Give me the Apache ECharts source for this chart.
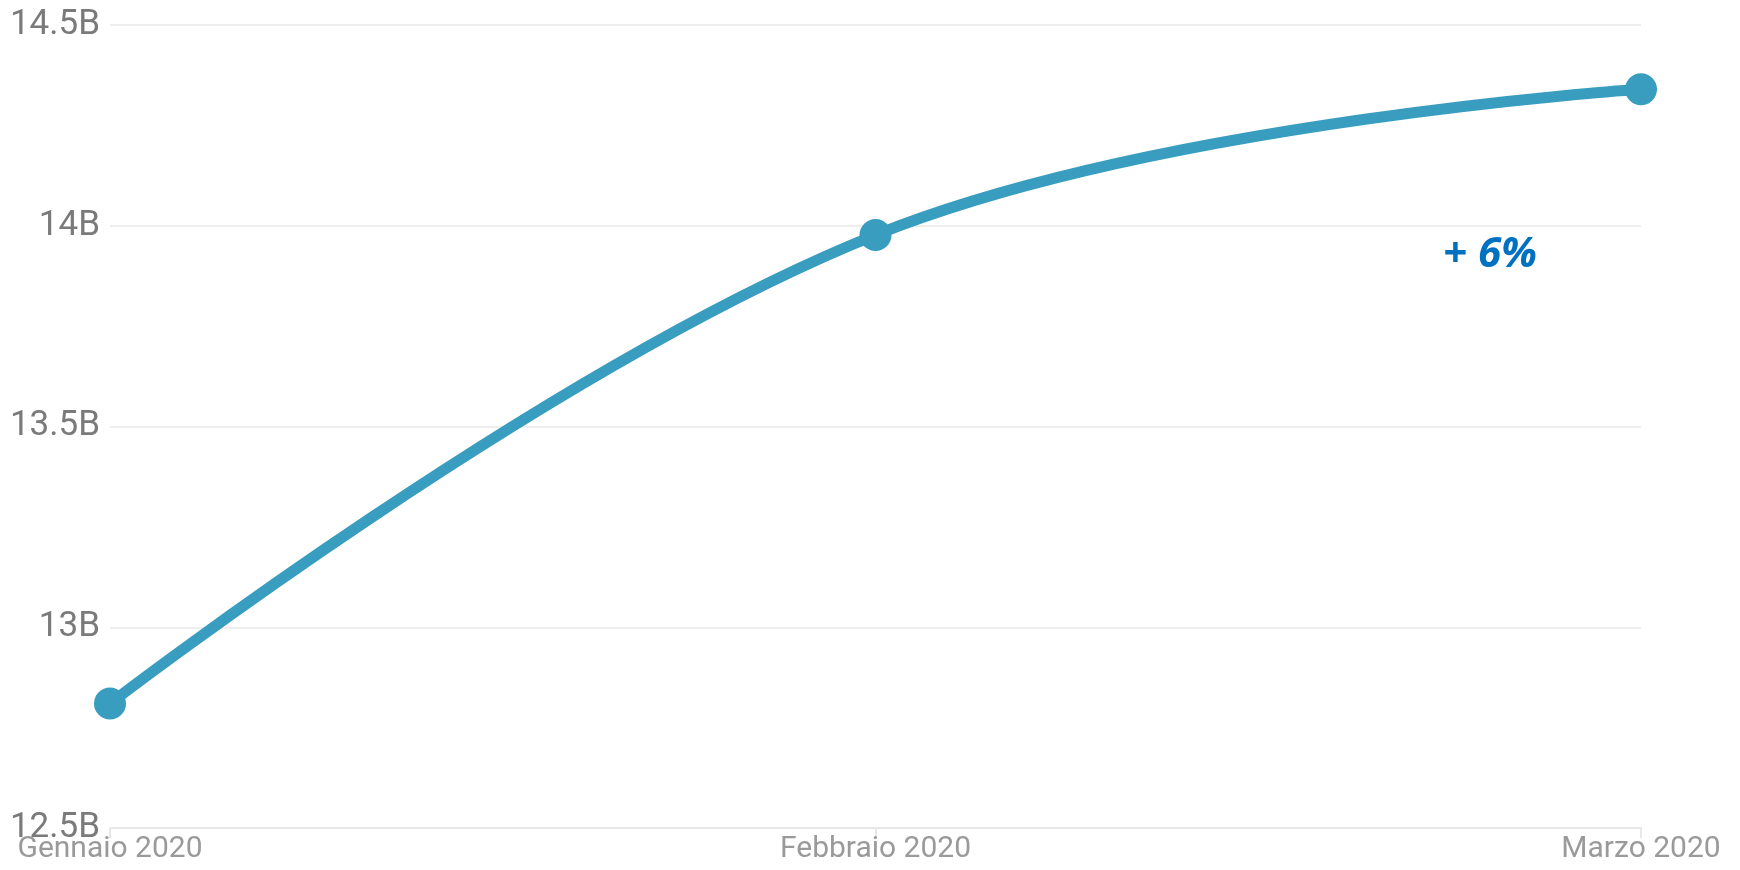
<!DOCTYPE html>
<html>
<head>
<meta charset="utf-8">
<script src="https://cdn.jsdelivr.net/npm/echarts@6/dist/echarts.min.js"></script>
<style>
html,body{margin:0;padding:0;background:#fff;}
#chart{width:1740px;height:870px;}
</style>
</head>
<body>
<div id="chart"></div>
<script>
const categories = ['Gennaio 2020', 'Febbraio 2020', 'Marzo 2020'];
const values = [12.81, 13.977, 14.34];
const yTicks = { min: 12.5, max: 14.5, interval: 0.5 };
const annotationText = '+ 6%';

const chart = echarts.init(document.getElementById('chart'));
chart.setOption({
  animation: false,
  grid: { left: 110, right: 99, top: 25, bottom: 42, containLabel: false },
  xAxis: {
    type: 'category',
    data: categories,
    boundaryGap: false,
    axisLine: { show: true, lineStyle: { color: '#e8e8e8', width: 2 } },
    axisTick: { show: true, length: 10, lineStyle: { color: '#e8e8e8', width: 2 } },
    axisLabel: { color: '#9a9a9a', fontSize: 30, fontFamily: 'Roboto', margin: 6 },
    splitLine: { show: false }
  },
  yAxis: {
    type: 'value',
    min: yTicks.min, max: yTicks.max, interval: yTicks.interval,
    axisLine: { show: false },
    axisTick: { show: false },
    axisLabel: {
      color: '#7a7a7a', fontSize: 35, fontFamily: 'Roboto', margin: 10,
      formatter: v => (Math.round(v * 10) / 10) + 'B'
    },
    splitLine: { show: true, lineStyle: { color: '#eeeeee', width: 2 } }
  },
  series: [{
    type: 'line',
    data: values,
    smooth: 0.4,
    symbol: 'circle',
    symbolSize: 32,
    itemStyle: { color: '#389dbf' },
    lineStyle: { color: '#389dbf', width: 11 }
  }],
  graphic: [{
    type: 'text',
    left: 1443,
    top: 234,
    style: {
      text: annotationText,
      fill: '#0070c0',
      font: 'italic bold 42px "Open Sans", "DejaVu Sans", sans-serif'
    }
  }]
});
</script>
</body>
</html>
